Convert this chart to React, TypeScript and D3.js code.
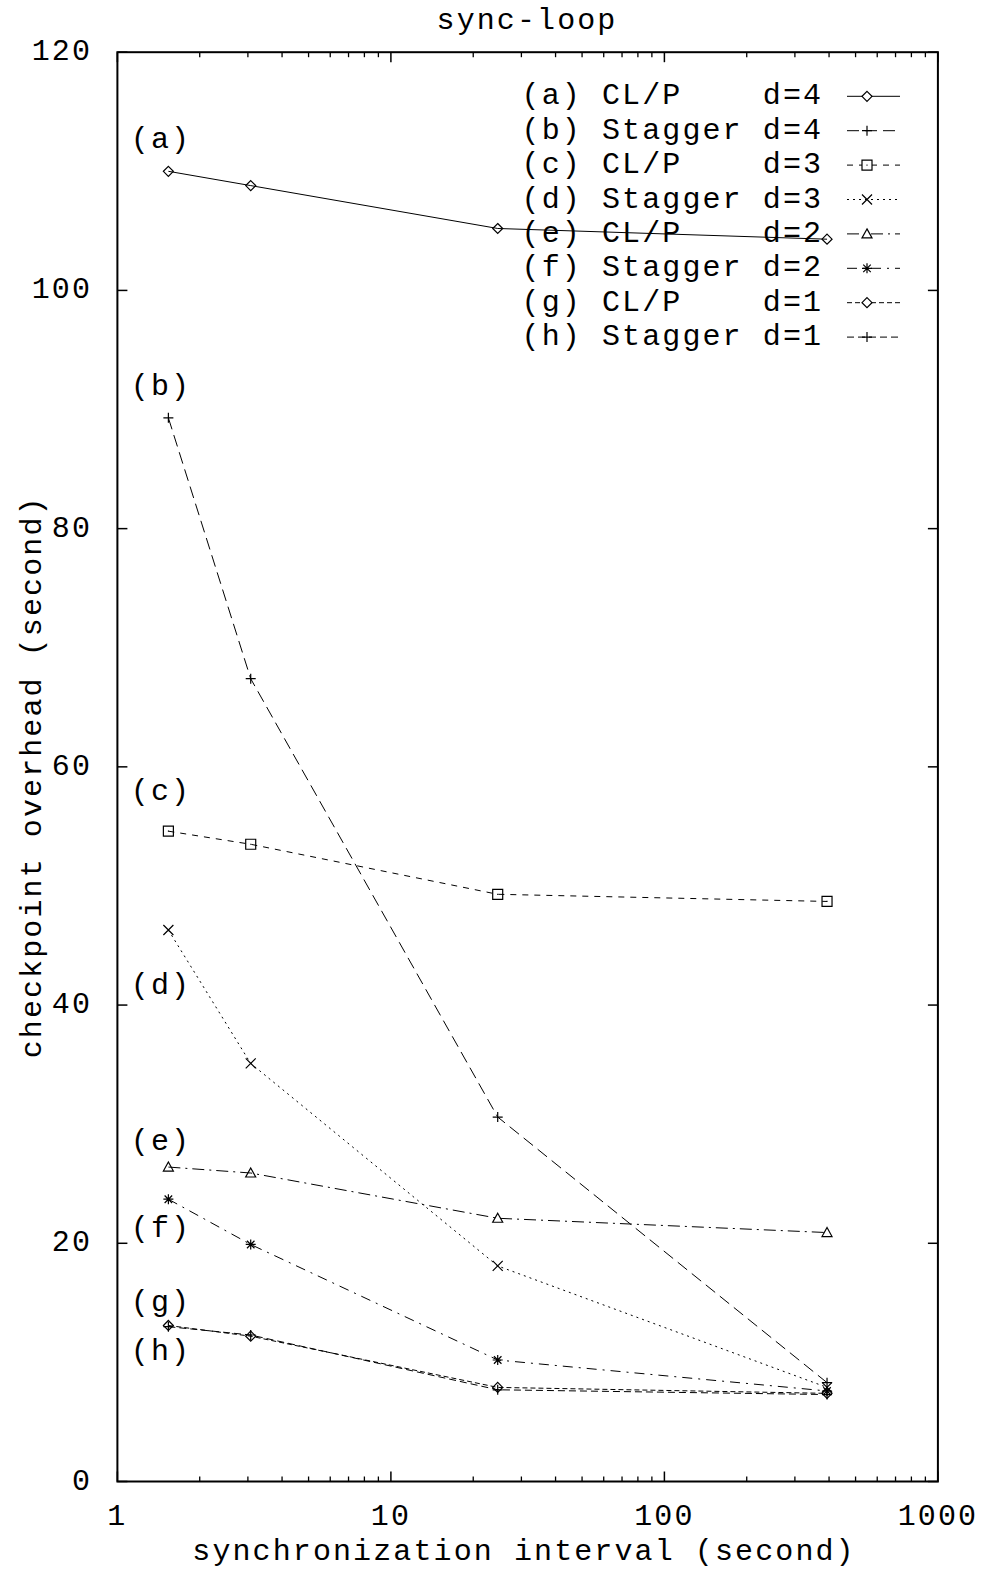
import React from "react";
import * as d3 from "d3";

// synchronization intervals (seconds)
const intervals = [1.536, 3.072, 24.576, 393.216];

const seriesNames = ["a", "b", "c", "d", "e", "f", "g", "h"];
const legendTexts = [
  "(a) CL/P    d=4",
  "(b) Stagger d=4",
  "(c) CL/P    d=3",
  "(d) Stagger d=3",
  "(e) CL/P    d=2",
  "(f) Stagger d=2",
  "(g) CL/P    d=1",
  "(h) Stagger d=1",
];

// checkpoint overhead per series
const valuesA = [110.0, 108.8, 105.2, 104.3];
const valuesB = [89.3, 67.4, 30.6, 8.3];
const valuesC = [54.6, 53.5, 49.3, 48.7];
const valuesD = [46.3, 35.1, 18.1, 7.9];
const valuesE = [26.4, 25.9, 22.1, 20.9];
const valuesF = [23.7, 19.9, 10.2, 7.6];
const valuesG = [13.1, 12.2, 7.9, 7.4];
const valuesH = [13.0, 12.3, 7.7, 7.3];

// on-plot letter labels (data coords)
const labelX = 1.12;
const labelY = [112.6, 91.9, 57.9, 41.6, 28.5, 21.2, 15.0, 10.9];

const yTicks = [0, 20, 40, 60, 80, 100, 120];
const xTicks = [1, 10, 100, 1000];

const allValues = [valuesA, valuesB, valuesC, valuesD, valuesE, valuesF, valuesG, valuesH];
const markers = ["diamond", "plus", "square", "cross", "triangle", "star", "diamond", "plus"];
const dashes = ["none", "12,6", "6,6", "2,4", "12,5,2,5", "10,6,2,6", "5,3", "7,4"];

const W = 984;
const H = 1573;
const margin = { left: 117.4, right: 937.9, top: 52.2, bottom: 1481.5 };
const FONT = "'Liberation Mono', 'Courier New', monospace";
const FS = 30;
const LS = 2.1;

const markerPath = (type: string, s: number) => {
  switch (type) {
    case "diamond":
      return `M0,${-s}L${s},0L0,${s}L${-s},0Z`;
    case "plus":
      return `M${-s},0H${s}M0,${-s}V${s}`;
    case "square":
      return `M${-s},${-s}H${s}V${s}H${-s}Z M-0.5,0H0.5`;
    case "cross":
      return `M${-s},${-s}L${s},${s}M${-s},${s}L${s},${-s}`;
    case "triangle":
      return `M0,${-s}L${s},${s * 0.8}L${-s},${s * 0.8}Z`;
    case "star":
      return `M${-s},0H${s}M0,${-s}V${s}M${-s * 0.75},${-s * 0.75}L${s * 0.75},${s * 0.75}M${-s * 0.75},${s * 0.75}L${s * 0.75},${-s * 0.75}`;
    default:
      return "";
  }
};

const App = () => {
  const x = d3.scaleLog().domain([1, 1000]).range([margin.left, margin.right]);
  const y = d3.scaleLinear().domain([0, 120]).range([margin.bottom, margin.top]);

  const line = d3
    .line<number>()
    .x((_, i) => x(intervals[i]))
    .y((d) => y(d));

  // minor ticks 2..9 per decade
  const minorTicks: number[] = [];
  [1, 10, 100].forEach((base) => {
    for (let k = 2; k <= 9; k++) minorTicks.push(base * k);
  });

  const legendX = 521.6;
  const legendRow0 = 96.3;
  const legendStep = 34.4;
  const sampleX1 = 847;
  const sampleX2 = 900;
  const sampleMark = 867;

  return (
    <svg
      width={W}
      height={H}
      style={{ position: "absolute", left: 0, top: 0, background: "#fff" }}
      fontFamily={FONT}
      fontSize={FS}
      letterSpacing={LS}
    >
      <rect width={W} height={H} fill="#fff" />
      {/* title */}
      <text x={527} y={29} textAnchor="middle" fill="#000">
        sync-loop
      </text>

      {/* y ticks (left and right) */}
      {yTicks.map((t) => (
        <g key={"y" + t}>
          <line x1={margin.left} x2={margin.left + 10} y1={y(t)} y2={y(t)} stroke="#000" strokeWidth={1.5} />
          <line x1={margin.right} x2={margin.right - 10} y1={y(t)} y2={y(t)} stroke="#000" strokeWidth={1.5} />
          <text x={92} y={y(t)} textAnchor="end" dominantBaseline="central" fill="#000">
            {t}
          </text>
        </g>
      ))}

      {/* x ticks (bottom and top) */}
      {xTicks.map((t) => (
        <g key={"x" + t}>
          <line x1={x(t)} x2={x(t)} y1={margin.bottom} y2={margin.bottom - 10} stroke="#000" strokeWidth={1.5} />
          <line x1={x(t)} x2={x(t)} y1={margin.top} y2={margin.top + 10} stroke="#000" strokeWidth={1.5} />
          <text x={x(t)} y={1525} textAnchor="middle" fill="#000">
            {t}
          </text>
        </g>
      ))}
      {minorTicks.map((t) => (
        <g key={"m" + t}>
          <line x1={x(t)} x2={x(t)} y1={margin.bottom} y2={margin.bottom - 5} stroke="#000" strokeWidth={1.3} />
          <line x1={x(t)} x2={x(t)} y1={margin.top} y2={margin.top + 5} stroke="#000" strokeWidth={1.3} />
        </g>
      ))}

      {/* axis titles */}
      <text x={524} y={1560} textAnchor="middle" fill="#000">
        synchronization interval (second)
      </text>
      <text
        transform={`translate(33,${(margin.top + margin.bottom) / 2 + 10}) rotate(-90)`}
        textAnchor="middle"
        dominantBaseline="central"
        fill="#000"
      >
        checkpoint overhead (second)
      </text>

      {/* series */}
      {allValues.map((vals, si) => (
        <g key={seriesNames[si]}>
          <path
            d={line(vals) || ""}
            fill="none"
            stroke="#000"
            strokeWidth={1}
            strokeDasharray={dashes[si]}
          />
          {vals.map((v, i) => (
            <path
              key={i}
              transform={`translate(${x(intervals[i])},${y(v)})`}
              d={markerPath(markers[si], 5)}
              fill="none"
              stroke="#000"
              strokeWidth={1.2}
            />
          ))}
          <text
            x={x(labelX)}
            y={y(labelY[si])}
            dominantBaseline="central"
            fill="#000"
          >
            ({seriesNames[si]})
          </text>
        </g>
      ))}

      {/* legend */}
      {legendTexts.map((txt, i) => {
        const ly = legendRow0 + i * legendStep;
        return (
          <g key={"leg" + i}>
            <text
              x={legendX}
              y={ly}
              dominantBaseline="central"
              style={{ whiteSpace: "pre" }}
              fill="#000"
            >
              {txt}
            </text>
            <line
              x1={sampleX1}
              x2={sampleX2}
              y1={ly}
              y2={ly}
              stroke="#000"
              strokeWidth={1}
              strokeDasharray={dashes[i]}
            />
            <path
              transform={`translate(${sampleMark},${ly})`}
              d={markerPath(markers[i], 5)}
              fill="#fff"
              stroke="#000"
              strokeWidth={1.2}
            />
          </g>
        );
      })}

      {/* border */}
      <rect
        x={margin.left}
        y={margin.top}
        width={margin.right - margin.left}
        height={margin.bottom - margin.top}
        fill="none"
        stroke="#000"
        strokeWidth={2}
      />
    </svg>
  );
};

export default App;
